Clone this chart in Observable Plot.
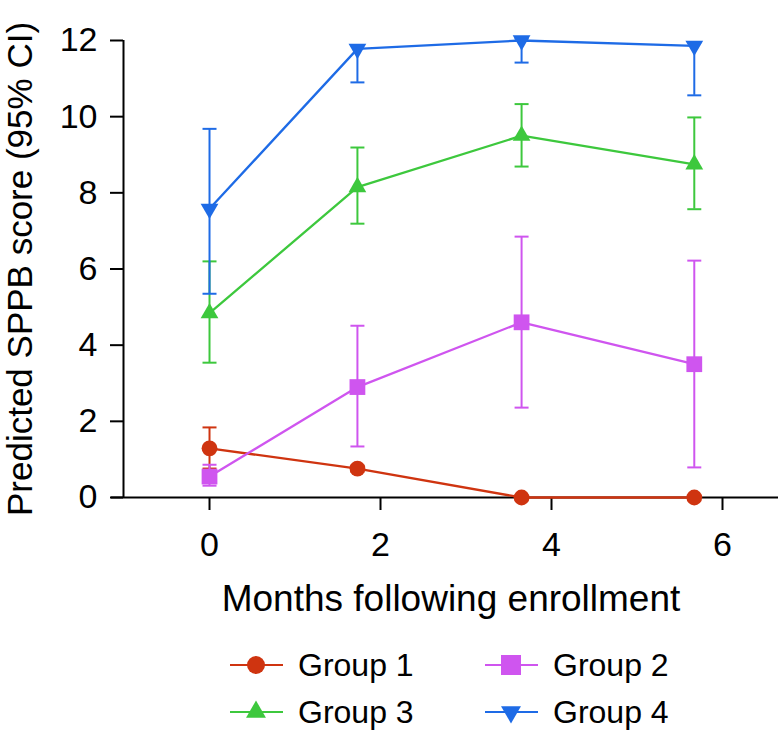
<!DOCTYPE html>
<html>
<head>
<meta charset="utf-8">
<script src="https://cdn.jsdelivr.net/npm/d3@7"></script>
<script src="https://cdn.jsdelivr.net/npm/@observablehq/plot@0.6"></script>
<style>
  html, body { margin: 0; padding: 0; background: white; }
  #wrap { width: 783px; height: 731px; position: relative; font-family: "Liberation Sans", Arial, Helvetica, sans-serif; }
  #legend { position: relative; width: 783px; height: 91px; }
  .item { position: absolute; display: flex; align-items: center; height: 40px; font-size: 32px; color: black; }
  .item svg { display: block; }
  .item span { margin-left: 10px; }
</style>
</head>
<body>
<div id="wrap">
  <div id="chart"></div>
  <div id="legend"></div>
</div>
<script>
// ---- data ----
const months = [0, 1.73, 3.65, 5.67];
const groups = ["Group 1", "Group 2", "Group 3", "Group 4"];
const colors = ["#cf3410", "#cf55ef", "#3dc83d", "#1e6be6"];

const g1Mean = [1.29, 0.76, 0, 0];
const g1Lo   = [0.76, 0.68, 0, 0];
const g1Hi   = [1.84, 0.84, 0, 0];

const g2Mean = [0.55, 2.90, 4.60, 3.50];
const g2Lo   = [0.31, 1.34, 2.36, 0.79];
const g2Hi   = [0.86, 4.51, 6.85, 6.22];

const g3Mean = [4.84, 8.15, 9.50, 8.75];
const g3Lo   = [3.54, 7.19, 8.69, 7.57];
const g3Hi   = [6.20, 9.19, 10.33, 9.98];

const g4Mean = [7.58, 11.78, 12.00, 11.86];
const g4Lo   = [5.35, 10.90, 11.42, 10.56];
const g4Hi   = [9.68, 11.88, 12.05, 11.95];

const xTicks = [0, 2, 4, 6];
const yTicks = [0, 2, 4, 6, 8, 10, 12];
const xLabel = "Months following enrollment";
const yLabel = "Predicted SPPB score (95% CI)";

// ---- table ----
const series = [[g1Mean, g1Lo, g1Hi], [g2Mean, g2Lo, g2Hi], [g3Mean, g3Lo, g3Hi], [g4Mean, g4Lo, g4Hi]];
const rows = [];
series.forEach(([m, lo, hi], gi) => {
  months.forEach((x, i) => rows.push({group: groups[gi], month: x, mean: m[i], lo: lo[i], hi: hi[i]}));
});

const shapes = ["circle", "square", "triangle", "triangle"];
const rotations = [0, 0, 0, 180];
const radii = [7.9, 8.9, 6.6, 6.6];

const capSymbol = {draw(ctx) { ctx.moveTo(-7, 0); ctx.lineTo(7, 0); }};

const font = "'Liberation Sans', Arial, Helvetica, sans-serif";
const xLeftAxis = -1.006;
const xMin = -1.006, xMax = 6.655;

const groupMarks = groups.flatMap((g, gi) => {
  const d = rows.filter(r => r.group === g);
  return [
    Plot.ruleX(d, {x: "month", y1: "lo", y2: "hi", stroke: colors[gi], strokeWidth: 2}),
    Plot.dot(d, {x: "month", y: "lo", symbol: capSymbol, stroke: colors[gi], fill: "none", strokeWidth: 2}),
    Plot.dot(d, {x: "month", y: "hi", symbol: capSymbol, stroke: colors[gi], fill: "none", strokeWidth: 2}),
    Plot.line(d, {x: "month", y: "mean", stroke: colors[gi], strokeWidth: 2.3}),
    Plot.dot(d, {x: "month", y: "mean", symbol: shapes[gi], rotate: rotations[gi], r: radii[gi], fill: colors[gi], stroke: "none"})
  ];
});

const chart = Plot.plot({
  width: 783,
  height: 640,
  marginLeft: 123,
  marginRight: 5,
  marginTop: 40,
  marginBottom: 143,
  style: {fontFamily: font, color: "black", background: "white", overflow: "visible"},
  x: {domain: [xMin, xMax]},
  y: {domain: [0, 12]},
  marks: [
    Plot.axisY({ticks: yTicks, tickSize: 13, tickPadding: 13, fontSize: 34, strokeWidth: 2, label: null}),
    Plot.axisY({ticks: [], tickSize: 0, fontSize: 35, label: yLabel, labelAnchor: "center", labelOffset: 116, labelArrow: "none"}),
    Plot.axisX({ticks: xTicks, tickSize: 13, tickPadding: 21, fontSize: 34, strokeWidth: 2, label: null}),
    Plot.axisX({ticks: [], tickSize: 0, fontSize: 37, label: xLabel, labelAnchor: "center", labelOffset: 113, labelArrow: "none"}),
    Plot.ruleX([xLeftAxis], {y1: 0, y2: 12, stroke: "black", strokeWidth: 2}),
    Plot.ruleY([0], {x1: xMin - 12 / 85.5, x2: xMax, stroke: "black", strokeWidth: 2}),
    ...groupMarks
  ]
});
document.getElementById("chart").appendChild(chart);

// ---- legend ----
const legend = d3.select("#legend");
const pos = [[226, 5], [481, 5], [226, 52], [481, 52]];
const legR = [9, 11.3, 7.4, 7.4];
const d3Shapes = [d3.symbolCircle, d3.symbolSquare, d3.symbolTriangle, d3.symbolTriangle];
groups.forEach((g, i) => {
  const item = legend.append("div").attr("class", "item")
    .style("left", pos[i][0] + "px").style("top", pos[i][1] + "px");
  const svg = item.append("svg").attr("width", 62).attr("height", 40);
  svg.append("line").attr("x1", 4).attr("x2", 57).attr("y1", 20).attr("y2", 20)
    .attr("stroke", colors[i]).attr("stroke-width", 2.2);
  svg.append("path")
    .attr("d", d3.symbol(d3Shapes[i], Math.PI * legR[i] * legR[i])())
    .attr("transform", `translate(30,20) rotate(${rotations[i]})`)
    .attr("fill", colors[i]);
  item.append("span").text(g);
});
</script>
</body>
</html>
